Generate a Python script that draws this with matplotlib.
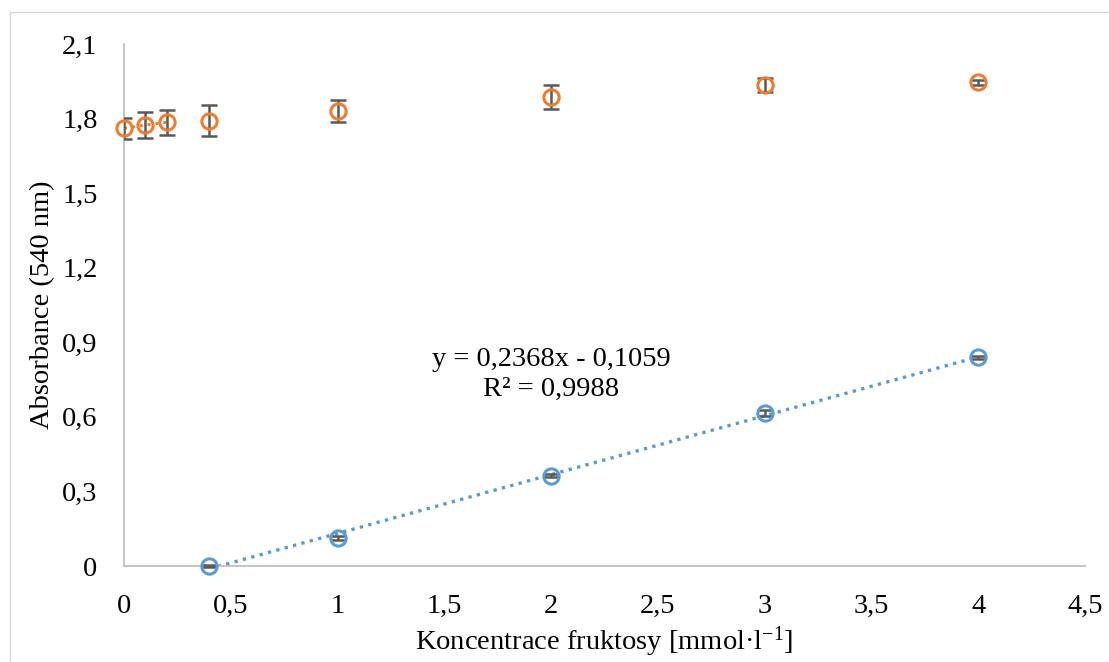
import matplotlib
matplotlib.use("Agg")
import matplotlib.pyplot as plt
from matplotlib.patches import Rectangle

plt.rcParams['font.family'] = ['Liberation Serif', 'DejaVu Serif']
plt.rcParams['mathtext.fontset'] = 'custom'
plt.rcParams['mathtext.rm'] = 'Liberation Serif'
plt.rcParams['mathtext.it'] = 'Liberation Serif:italic'
plt.rcParams['mathtext.bf'] = 'Liberation Serif:bold'

# Data
x_orange = [0, 0.1, 0.2, 0.4, 1, 2, 3, 4]
y_orange = [1.761, 1.774, 1.785, 1.792, 1.830, 1.888, 1.935, 1.946]
e_orange = [0.043, 0.053, 0.051, 0.064, 0.043, 0.048, 0.030, 0.010]

x_blue = [0.4, 1, 2, 3, 4]
y_blue = [0.0, 0.112, 0.364, 0.615, 0.840]
e_blue = [0.004, 0.008, 0.006, 0.012, 0.006]

slope, intercept = 0.2368, -0.1059
eq_text = "y = 0,2368x - 0,1059\nR² = 0,9988"

x_ticks = [0, 0.5, 1, 1.5, 2, 2.5, 3, 3.5, 4, 4.5]
y_ticks = [0, 0.3, 0.6, 0.9, 1.2, 1.5, 1.8, 2.1]

orange = '#ED7D31'
blue = '#5B9BD5'
errc = '#595959'
FS = 20.5

fig = plt.figure(figsize=(11.09, 6.62), dpi=100)
W, H = 1109, 662
ax = fig.add_axes([124 / W, (H - 566) / H, (1085 - 124) / W, (566 - 44) / H])

# outer chart border
fig.patches.append(Rectangle((10 / W, -0.01), 1.02, (H - 12) / H + 0.01, transform=fig.transFigure,
                             fill=False, edgecolor='#D9D9D9', linewidth=1.0))

# orange dotted connector for first points
ax.plot(x_orange[:3], y_orange[:3], linestyle=(0, (1, 1.6)), color=orange, linewidth=2.2, zorder=2)

ax.errorbar(x_orange, y_orange, yerr=e_orange, fmt='none', ecolor=errc, elinewidth=1.8,
            capsize=6, capthick=1.8, zorder=3)
ax.plot(x_orange, y_orange, 'o', markersize=11, markerfacecolor='none',
        markeredgecolor=orange, markeredgewidth=2.2, zorder=4, clip_on=False)

# blue trendline
tx = [x_blue[0], x_blue[-1]]
ty = [slope * v + intercept for v in tx]
ax.plot(tx, ty, linestyle=(0, (1, 1.6)), color=blue, linewidth=2.4, zorder=2)

ax.errorbar(x_blue, y_blue, yerr=e_blue, fmt='none', ecolor=errc, elinewidth=1.8,
            capsize=6, capthick=1.8, zorder=3, clip_on=False)
ax.plot(x_blue, y_blue, 'o', markersize=11, markerfacecolor='none',
        markeredgecolor=blue, markeredgewidth=2.2, zorder=4, clip_on=False)

ax.text(2.0, 0.770, eq_text, ha='center', va='center', fontsize=FS, linespacing=1.25)

ax.set_xlim(0, 4.5)
ax.set_ylim(0, 2.1)
ax.set_xticks(x_ticks)
ax.set_yticks(y_ticks)
ax.set_xticklabels([f"{v:g}".replace('.', ',') for v in x_ticks])
ax.set_yticklabels([f"{v:g}".replace('.', ',') for v in y_ticks])
ax.tick_params(axis='both', length=0, labelsize=FS, colors='black')
ax.tick_params(axis='x', pad=20)
ax.tick_params(axis='y', pad=19)

for s in ['top', 'right']:
    ax.spines[s].set_visible(False)
for s in ['left', 'bottom']:
    ax.spines[s].set_color('#BFBFBF')
    ax.spines[s].set_linewidth(1.3)

ax.set_xlabel("Koncentrace fruktosy [mmol·l$^{\\mathrm{-1}}$]", fontsize=FS, labelpad=4)
ax.set_ylabel("Absorbance (540 nm)", fontsize=FS, labelpad=5)

fig.savefig("out.png", dpi=100)
